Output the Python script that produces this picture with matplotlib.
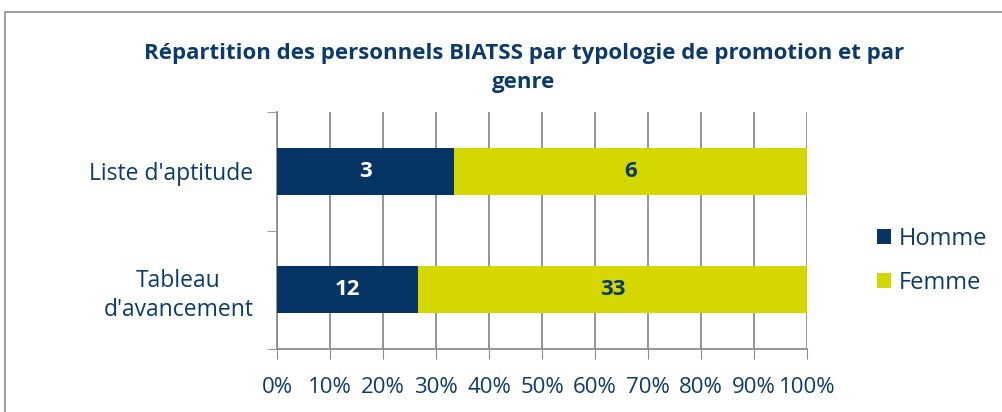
import matplotlib
matplotlib.use("Agg")
import matplotlib.pyplot as plt
import numpy as np
from matplotlib.patches import Rectangle

categories = ["Tableau\nd'avancement", "Liste d'aptitude"]
homme = [12, 3]
femme = [33, 6]
title = "Répartition des personnels BIATSS par typologie de promotion et par\ngenre"

NAVY = "#063565"
YELLOW = "#D4D700"
TEXT = "#0B3B6E"
GRID = "#8C8C8C"

plt.rcParams['font.family'] = ['Open Sans', 'DejaVu Sans']

W, H = 1003, 412
fig = plt.figure(figsize=(W / 100, H / 100), dpi=100)

# outer chart frame
fig.patches.append(Rectangle((5 / W, -0.1), 1.2, 1 - 12 / H + 0.1, transform=fig.transFigure,
                             fill=False, edgecolor="#8C8C8C", linewidth=1.2))

ax = fig.add_axes([277 / W, 1 - 349 / H, (807 - 277) / W, (349 - 112) / H])

h = np.array(homme, dtype=float)
f = np.array(femme, dtype=float)
tot = h + f
hp = h / tot * 100
fp = f / tot * 100
y = np.arange(len(categories))

ax.barh(y, hp, height=0.4, color=NAVY, label="Homme", zorder=3)
ax.barh(y, fp, left=hp, height=0.4, color=YELLOW, label="Femme", zorder=3)

for i in range(len(categories)):
    ax.text(hp[i] / 2, y[i], str(homme[i]), ha='center', va='center', color='white',
            fontsize=16, fontweight='bold', zorder=4)
    ax.text(hp[i] + fp[i] / 2, y[i], str(femme[i]), ha='center', va='center', color=TEXT,
            fontsize=16, fontweight='bold', zorder=4)

ax.set_xlim(0, 100)
ax.set_ylim(-0.5, len(categories) - 0.5)
ax.set_xticks(np.arange(0, 101, 10))
ax.set_xticklabels([f"{v}%" for v in range(0, 101, 10)], color=TEXT, fontsize=16)
ax.set_yticks(y)
ax.set_yticklabels(categories, color=TEXT, fontsize=16.5, multialignment='center',
                   linespacing=1.3)
ax.tick_params(axis='y', length=0, pad=17)
ax.tick_params(axis='x', length=7, color=GRID, pad=13, direction='out')
ax.set_yticks(np.arange(-0.5, len(categories), 1.0), minor=True)
ax.tick_params(axis='y', which='minor', length=7, color=GRID, direction='out')

ax.grid(axis='x', color=GRID, linewidth=1.3, zorder=0)
for s in ['top', 'right']:
    ax.spines[s].set_visible(False)
for s in ['left', 'bottom']:
    ax.spines[s].set_color(GRID)
    ax.spines[s].set_linewidth(1.3)

fig.text(524 / W, 1 - 68 / H, title, ha='center', va='center', fontsize=16,
         fontweight='bold', color=TEXT, linespacing=1.5)

leg = fig.legend(loc='center left', bbox_to_anchor=(856 / W, 1 - 261 / H), frameon=False,
                 fontsize=17, handlelength=0.6, handleheight=0.6, handletextpad=0.3,
                 labelspacing=0.85, labelcolor=TEXT)

fig.savefig("out.png", dpi=100)
